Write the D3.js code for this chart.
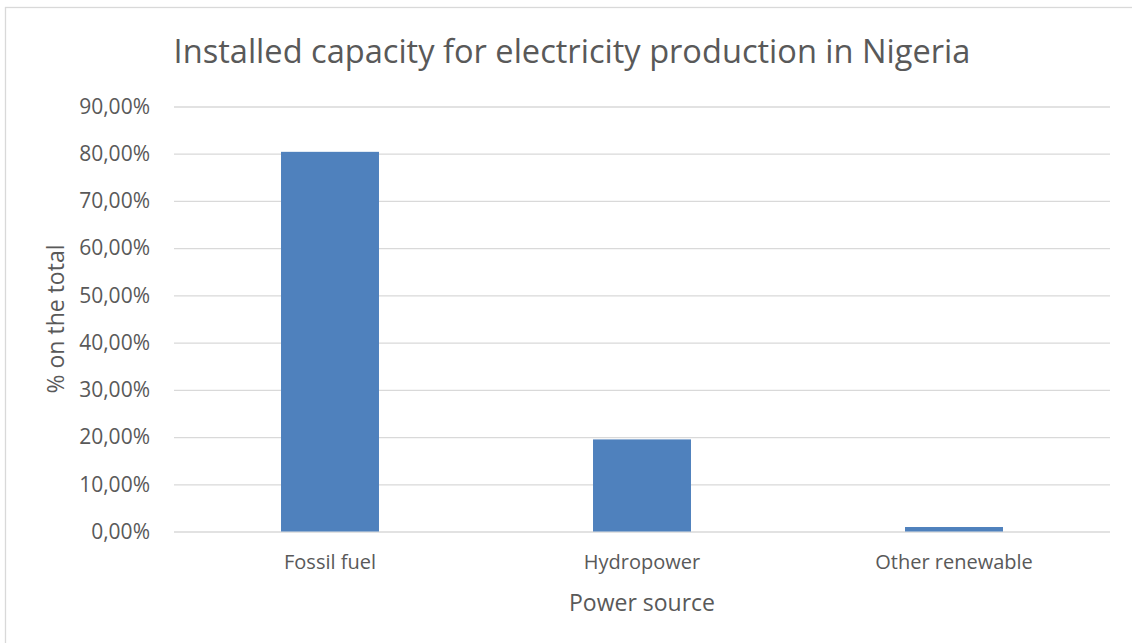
<!DOCTYPE html>
<html>
<head>
<meta charset="utf-8">
<script src="https://cdn.jsdelivr.net/npm/d3@7"></script>
<style>
  html, body { margin: 0; padding: 0; background: #fff; }
  svg { display: block; }
  svg text { font-family: "Open Sans", "Noto Sans", sans-serif; }
</style>
</head>
<body>
<svg id="chart" width="1132" height="643"></svg>
<script>
// Installed capacity shares by power source
const categories = ["Fossil fuel", "Hydropower", "Other renewable"];
const shares = [80.4, 19.5, 0.95];
const yTicks = [0, 10, 20, 30, 40, 50, 60, 70, 80, 90];

const titleText = "Installed capacity for electricity production in Nigeria";
const xTitle = "Power source";
const yTitle = "% on the total";

const svg = d3.select("#chart");
const W = 1132, H = 643;
const margin = { top: 106.5, right: 22, bottom: 111.5, left: 174 };
const plotW = W - margin.left - margin.right;
const plotH = H - margin.top - margin.bottom;
const textColor = "#595959";

// outer chart frame
svg.append("rect")
  .attr("x", 5.5).attr("y", 7.5)
  .attr("width", W + 10).attr("height", H + 10)
  .attr("fill", "#fff").attr("stroke", "#d9d9d9").attr("stroke-width", 1.3);

const g = svg.append("g").attr("transform", `translate(${margin.left},${margin.top})`);

const x = d3.scaleBand()
  .domain(categories)
  .range([0, plotW])
  .paddingInner(0.686)
  .paddingOuter(0.343);

const y = d3.scaleLinear().domain([0, 90]).range([plotH, 0]);

const fmt = v => d3.format(".2f")(v).replace(".", ",") + "%";

// gridlines and tick labels
const yAxis = d3.axisLeft(y).tickValues(yTicks).tickSize(-plotW).tickPadding(24).tickFormat(fmt);
const ya = g.append("g").call(yAxis).attr("font-family", null);
ya.select(".domain").remove();
ya.selectAll(".tick line").attr("stroke", "#d9d9d9").attr("stroke-width", 1.3);
ya.selectAll(".tick text").attr("fill", textColor).attr("font-size", 21);

// bars
g.selectAll("rect.bar")
  .data(categories.map((c, i) => ({ c, v: shares[i] })))
  .join("rect")
  .attr("class", "bar")
  .attr("x", d => x(d.c))
  .attr("width", x.bandwidth())
  .attr("y", d => y(d.v))
  .attr("height", d => y(0) - y(d.v))
  .attr("fill", "#4f81bd");

// category labels
const xAxis = d3.axisBottom(x).tickSize(0).tickPadding(23);
const xa = g.append("g").attr("transform", `translate(0,${plotH})`).call(xAxis).attr("font-family", null);
xa.select(".domain").remove();
xa.selectAll(".tick text").attr("fill", textColor).attr("font-size", 20);

// titles
svg.append("text")
  .attr("x", 572).attr("y", 63)
  .attr("text-anchor", "middle")
  .attr("fill", textColor)
  .attr("font-size", 32.6)
  .text(titleText);

svg.append("text")
  .attr("x", margin.left + plotW / 2).attr("y", 611)
  .attr("text-anchor", "middle")
  .attr("fill", textColor)
  .attr("font-size", 23)
  .text(xTitle);

svg.append("text")
  .attr("transform", `translate(64,${margin.top + plotH / 2}) rotate(-90)`)
  .attr("text-anchor", "middle")
  .attr("fill", textColor)
  .attr("font-size", 23)
  .text(yTitle);
</script>
</body>
</html>
